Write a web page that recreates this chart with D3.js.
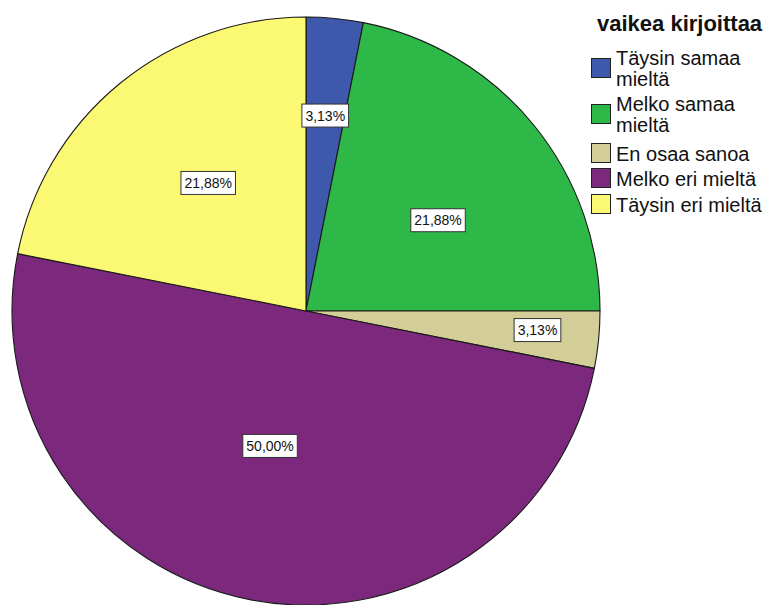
<!DOCTYPE html>
<html>
<head>
<meta charset="utf-8">
<script src="https://cdn.jsdelivr.net/npm/d3@7"></script>
<style>
  html, body { margin: 0; padding: 0; background: #ffffff; }
  svg { display: block; font-family: Arial, "Liberation Sans", sans-serif; }
</style>
</head>
<body>
<svg id="chart" width="766" height="605"></svg>
<script>
// Response categories and counts (n = 32)
const categories = ["Täysin samaa mieltä", "Melko samaa mieltä", "En osaa sanoa", "Melko eri mieltä", "Täysin eri mieltä"];
const legendLines = [["Täysin samaa", "mieltä"], ["Melko samaa", "mieltä"], ["En osaa sanoa"], ["Melko eri mieltä"], ["Täysin eri mieltä"]];
const counts = [1, 7, 1, 16, 7];
const percentLabels = ["3,13%", "21,88%", "3,13%", "50,00%", "21,88%"];
const colors = ["#3E58AC", "#2EB848", "#D3CE97", "#7C287D", "#FBF873"];
const title = "vaikea kirjoittaa";

const svg = d3.select("#chart");
const cx = 306, cy = 311, radius = 294;

const pie = d3.pie().sort(null).value(d => d.count);
const arcs = pie(categories.map((c, i) => ({ cat: c, count: counts[i], label: percentLabels[i], color: colors[i] })));
const arc = d3.arc().innerRadius(0).outerRadius(radius);

const g = svg.append("g").attr("transform", `translate(${cx},${cy})`);

g.selectAll("path.slice")
  .data(arcs)
  .join("path")
  .attr("class", "slice")
  .attr("d", arc)
  .attr("fill", d => d.data.color)
  .attr("stroke", "#1a1a1a")
  .attr("stroke-width", 1.1)
  .attr("stroke-linejoin", "round");

// label placement: distance from centre (fraction of radius) and a small angular nudge
const labelPlacement = [[0.668, 0], [0.545, 0.085], [0.79, -0.016], [0.475, 0.064], [0.548, 0.035]];

const labels = g.selectAll("g.lbl")
  .data(arcs)
  .join("g")
  .attr("class", "lbl")
  .attr("transform", (d, i) => {
    const a = (d.startAngle + d.endAngle) / 2 + labelPlacement[i][1];
    const r = radius * labelPlacement[i][0];
    const la = d3.arc().innerRadius(r).outerRadius(r).startAngle(a).endAngle(a);
    const [x, y] = la.centroid();
    return `translate(${x},${y})`;
  });

labels.append("text")
  .attr("text-anchor", "middle")
  .attr("dy", "0.36em")
  .attr("font-size", 14)
  .attr("fill", "#111")
  .text(d => d.data.label);

labels.each(function () {
  const grp = d3.select(this);
  const bb = grp.select("text").node().getBBox();
  grp.insert("rect", "text")
    .attr("x", bb.x - 3.5)
    .attr("y", -11.5)
    .attr("width", bb.width + 7)
    .attr("height", 23)
    .attr("fill", "#ffffff")
    .attr("stroke", "#333")
    .attr("stroke-width", 1);
});

// Legend
const legend = svg.append("g");
legend.append("text")
  .attr("x", 597)
  .attr("y", 31)
  .attr("font-size", 22)
  .attr("font-weight", "bold")
  .attr("fill", "#111")
  .text(title);

const itemTops = [58, 104, 143, 168, 194];
const sw = 19, lineH = 21;
const items = legend.selectAll("g.item")
  .data(categories)
  .join("g")
  .attr("class", "item")
  .attr("transform", (d, i) => `translate(591,${itemTops[i]})`);

items.append("rect")
  .attr("x", 0.5).attr("y", 0.5)
  .attr("width", sw).attr("height", sw)
  .attr("fill", (d, i) => colors[i])
  .attr("stroke", "#222")
  .attr("stroke-width", 1);

// text block is centred vertically on its swatch
items.append("text")
  .attr("font-size", 20)
  .attr("fill", "#111")
  .selectAll("tspan")
  .data((d, i) => legendLines[i].map((t, j, arr) => ({ t, j, n: arr.length })))
  .join("tspan")
  .attr("x", 25)
  .attr("y", d => sw / 2 + 0.5 + (d.j - (d.n - 1) / 2) * lineH + 7.5)
  .text(d => d.t);
</script>
</body>
</html>
